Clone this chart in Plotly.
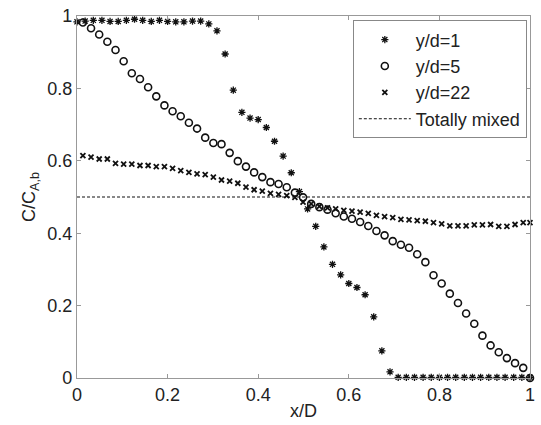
import plotly.graph_objects as go

# ---- data ----
x_star = [0.000, 0.018, 0.036, 0.055, 0.073, 0.091, 0.109, 0.127, 0.145, 0.164,
          0.182, 0.200, 0.218, 0.236, 0.255, 0.273, 0.291, 0.309, 0.327, 0.345,
          0.364, 0.382, 0.400, 0.418, 0.436, 0.455, 0.473, 0.491, 0.509, 0.527,
          0.545, 0.564, 0.582, 0.600, 0.618, 0.636, 0.655, 0.673, 0.691, 0.709,
          0.727, 0.745, 0.764, 0.782, 0.800, 0.818, 0.836, 0.855, 0.873, 0.891,
          0.909, 0.927, 0.945, 0.964, 0.982, 1.000]
y_star = [0.984, 0.986, 0.988, 0.988, 0.985, 0.985, 0.988, 0.991, 0.988, 0.985,
          0.988, 0.985, 0.984, 0.984, 0.986, 0.986, 0.978, 0.959, 0.895, 0.795,
          0.734, 0.718, 0.714, 0.692, 0.654, 0.613, 0.567, 0.515, 0.467, 0.419,
          0.362, 0.314, 0.285, 0.261, 0.250, 0.230, 0.169, 0.075, 0.017, 0.002,
          0.002, 0.002, 0.002, 0.002, 0.002, 0.002, 0.002, 0.002, 0.002, 0.002,
          0.002, 0.002, 0.002, 0.002, 0.002, 0.002]

x_grid = [0.013, 0.031, 0.049, 0.067, 0.085, 0.103, 0.121, 0.139, 0.157, 0.175,
          0.193, 0.211, 0.229, 0.247, 0.265, 0.283, 0.301, 0.319, 0.337, 0.355,
          0.373, 0.391, 0.409, 0.427, 0.445, 0.463, 0.481, 0.499, 0.517, 0.535,
          0.553, 0.571, 0.589, 0.607, 0.625, 0.643, 0.661, 0.679, 0.697, 0.715,
          0.733, 0.751, 0.769, 0.787, 0.805, 0.823, 0.841, 0.859, 0.877, 0.895,
          0.913, 0.931, 0.949, 0.967, 0.985, 1.000]
y_circle = [0.982, 0.966, 0.949, 0.929, 0.906, 0.875, 0.842, 0.826, 0.803, 0.778,
            0.753, 0.737, 0.723, 0.705, 0.689, 0.664, 0.649, 0.646, 0.622, 0.599,
            0.584, 0.568, 0.555, 0.541, 0.536, 0.527, 0.512, 0.499, 0.481, 0.472,
            0.465, 0.455, 0.446, 0.440, 0.431, 0.420, 0.406, 0.394, 0.378, 0.368,
            0.360, 0.342, 0.320, 0.284, 0.261, 0.233, 0.207, 0.178, 0.150, 0.117,
            0.090, 0.071, 0.055, 0.041, 0.028, 0.000]
y_cross = [0.614, 0.610, 0.605, 0.605, 0.593, 0.591, 0.591, 0.587, 0.587, 0.584,
           0.584, 0.579, 0.573, 0.568, 0.564, 0.562, 0.555, 0.547, 0.544, 0.538,
           0.527, 0.520, 0.516, 0.510, 0.507, 0.504, 0.499, 0.486, 0.481, 0.474,
           0.470, 0.467, 0.463, 0.461, 0.458, 0.455, 0.449, 0.446, 0.443, 0.438,
           0.437, 0.435, 0.433, 0.429, 0.426, 0.420, 0.420, 0.420, 0.423, 0.423,
           0.424, 0.419, 0.419, 0.424, 0.429, 0.429]

x_mixed = [0.0, 1.0]
y_mixed = [0.5, 0.5]

tick_vals = [0, 0.2, 0.4, 0.6, 0.8, 1.0]
tick_text = ["0", "0.2", "0.4", "0.6", "0.8", "1"]

FONT = "Liberation Sans, Arial, sans-serif"
FS = 18

fig = go.Figure()
fig.add_trace(go.Scatter(x=x_star, y=y_star, mode="markers", name="y/d=1",
                         cliponaxis=False,
                         marker=dict(symbol="asterisk-open", size=6, color="#111111",
                                     line=dict(color="#111111", width=1.3))))
fig.add_trace(go.Scatter(x=x_grid, y=y_circle, mode="markers", name="y/d=5",
                         cliponaxis=False,
                         marker=dict(symbol="circle-open", size=7, color="#111111",
                                     line=dict(color="#111111", width=1.6))))
fig.add_trace(go.Scatter(x=x_grid, y=y_cross, mode="markers", name="y/d=22",
                         cliponaxis=False,
                         marker=dict(symbol="x-thin-open", size=5, color="#111111",
                                     line=dict(color="#111111", width=1.8))))
fig.add_trace(go.Scatter(x=x_mixed, y=y_mixed, mode="lines", name="Totally mixed",
                         line=dict(color="#111111", width=1, dash="3px,2px")))

axis_common = dict(range=[0, 1], tickvals=tick_vals, ticktext=tick_text,
                   ticks="inside", ticklen=4, tickcolor="#999999",
                   showline=True, linecolor="#999999", linewidth=1.3,
                   mirror="allticks", showgrid=False, zeroline=False,
                   tickfont=dict(family=FONT, size=FS, color="#222222"))

fig.update_layout(
    width=541, height=425,
    margin=dict(l=77, r=6, t=15, b=47),
    paper_bgcolor="white", plot_bgcolor="white",
    font=dict(family=FONT, size=FS, color="#222222"),
    xaxis=dict(**axis_common, title=dict(text="x/D", standoff=0,
                                        font=dict(family=FONT, size=FS))),
    yaxis=dict(**axis_common, title=dict(text="C/C<sub>A,b</sub>", standoff=6,
                                        font=dict(family=FONT, size=FS))),
    legend=dict(x=0.993, y=0.988, xanchor="right", yanchor="top",
                bgcolor="white", bordercolor="#888888", borderwidth=1,
                font=dict(family=FONT, size=FS, color="#222222"),
                tracegroupgap=0, itemsizing="trace", itemwidth=52),
    showlegend=True,
)

fig.write_html("out.html")
